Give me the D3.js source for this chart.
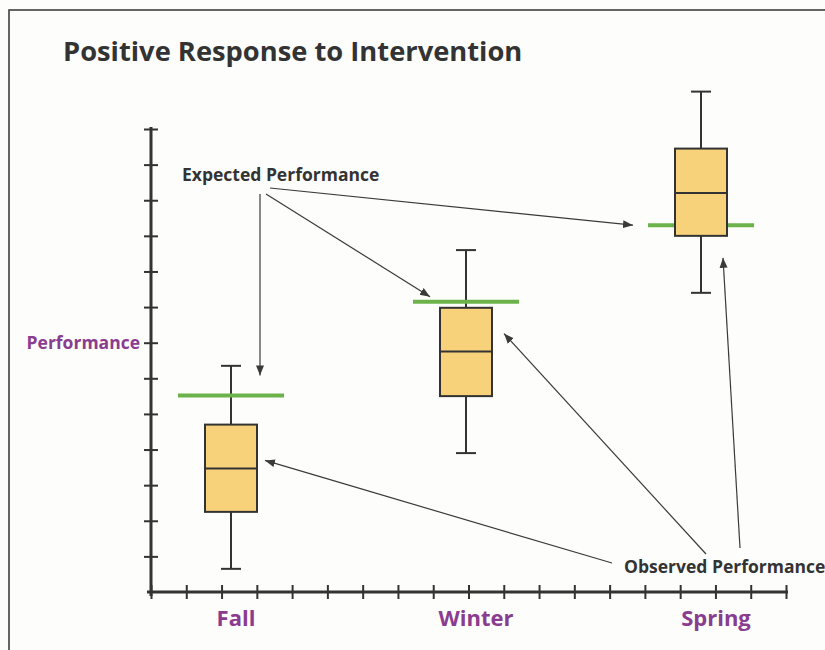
<!DOCTYPE html>
<meta charset="utf-8">
<script src="https://d3js.org/d3.v7.min.js"></script>
<style>
  body { margin: 0; background: #fdfdfc; }
  text { font-family: "Open Sans", sans-serif; font-weight: bold; }
</style>
<div id="chart"></div>
<script>

// data (performance in axis units, one unit per y tick)
var seasons = ["Fall", "Winter", "Spring"];
var whiskerLow = [0.65, 3.9, 8.4];
var q1 = [2.25, 5.5, 10.0];
var medians = [3.47, 6.75, 11.2];
var q3 = [4.7, 7.98, 12.45];
var whiskerHigh = [6.35, 9.6, 14.05];
var expected = [5.52, 8.15, 10.3];
var yTicks = d3.range(1, 14);
var xTicks = d3.range(0, 19);

var colors = {
  ink: "#333333",
  purple: "#8a3c8f",
  box: "#f8d27a",
  green: "#6cb24b",
  arrow: "#3a3a3a"
};

var width = 825, height = 650;

var svg = d3.select("#chart").append("svg")
  .attr("width", width)
  .attr("height", height);

// frame
svg.append("rect")
  .attr("x", 9).attr("y", 10)
  .attr("width", 830).attr("height", 660)
  .attr("fill", "#fdfdfc")
  .attr("stroke", colors.ink)
  .attr("stroke-width", 1.5);

// scales
var y = d3.scaleLinear().domain([0, 13]).range([592, 129]);
var xAxisScale = d3.scaleLinear().domain([0, 18]).range([151, 786]);
var x = d3.scalePoint().domain(seasons).range([231, 701]);
var xLabel = d3.scalePoint().domain(seasons).range([236, 716]);

var boxW = 52, capW = 20, expW = 106;

// title
svg.append("text")
  .attr("x", 63).attr("y", 61)
  .attr("font-size", 27.3)
  .attr("fill", colors.ink)
  .text("Positive Response to Intervention");

// y axis: ticks crossing the line
var yAxisG = svg.append("g").attr("transform", "translate(151,0)");
yAxisG.append("g")
  .call(d3.axisLeft(y).tickValues(yTicks).tickSize(7).tickSizeOuter(0).tickFormat(""));
yAxisG.append("g")
  .call(d3.axisRight(y).tickValues(yTicks).tickSize(7).tickSizeOuter(0).tickFormat(""));
yAxisG.selectAll(".domain").remove();
yAxisG.selectAll(".tick line").attr("stroke", colors.ink).attr("stroke-width", 2);
yAxisG.append("line")
  .attr("x1", 0).attr("x2", 0)
  .attr("y1", y(13) - 2).attr("y2", y(0) + 4)
  .attr("stroke", colors.ink).attr("stroke-width", 3);

// x axis
var xAxisG = svg.append("g").attr("transform", "translate(0,592)");
xAxisG.append("g")
  .call(d3.axisBottom(xAxisScale).tickValues(xTicks).tickSize(7).tickSizeOuter(0).tickFormat(""));
xAxisG.append("g")
  .call(d3.axisTop(xAxisScale).tickValues(xTicks).tickSize(7).tickSizeOuter(0).tickFormat(""));
xAxisG.selectAll(".domain").remove();
xAxisG.selectAll(".tick line").attr("stroke", colors.ink).attr("stroke-width", 2);
xAxisG.append("line")
  .attr("x1", xAxisScale(0) - 4).attr("x2", xAxisScale(18) + 2)
  .attr("y1", 0).attr("y2", 0)
  .attr("stroke", colors.ink).attr("stroke-width", 3);

// axis labels
svg.append("text")
  .attr("x", 140).attr("y", y(7))
  .attr("dy", "0.35em")
  .attr("text-anchor", "end")
  .attr("font-size", 17.5)
  .attr("fill", colors.purple)
  .text("Performance");

svg.selectAll(".season-label")
  .data(seasons)
  .enter().append("text")
  .attr("class", "season-label")
  .attr("x", function(d) { return xLabel(d); })
  .attr("y", 626)
  .attr("text-anchor", "middle")
  .attr("font-size", 22)
  .attr("fill", colors.purple)
  .text(function(d) { return d; });

// box plots
var rows = seasons.map(function(s, i) {
  return { season: s, lo: whiskerLow[i], q1: q1[i], med: medians[i], q3: q3[i], hi: whiskerHigh[i], exp: expected[i] };
});

var boxes = svg.selectAll(".box")
  .data(rows)
  .enter().append("g")
  .attr("class", "box");

boxes.append("line")
  .attr("x1", function(d) { return x(d.season); })
  .attr("x2", function(d) { return x(d.season); })
  .attr("y1", function(d) { return y(d.lo); })
  .attr("y2", function(d) { return y(d.hi); })
  .attr("stroke", colors.ink).attr("stroke-width", 2);

boxes.selectAll(".cap")
  .data(function(d) { return [{ s: d.season, v: d.lo }, { s: d.season, v: d.hi }]; })
  .enter().append("line")
  .attr("class", "cap")
  .attr("x1", function(d) { return x(d.s) - capW / 2; })
  .attr("x2", function(d) { return x(d.s) + capW / 2; })
  .attr("y1", function(d) { return y(d.v); })
  .attr("y2", function(d) { return y(d.v); })
  .attr("stroke", colors.ink).attr("stroke-width", 2);

// expected performance lines (drawn under the box)
boxes.append("line")
  .attr("x1", function(d) { return x(d.season) - expW / 2; })
  .attr("x2", function(d) { return x(d.season) + expW / 2; })
  .attr("y1", function(d) { return y(d.exp); })
  .attr("y2", function(d) { return y(d.exp); })
  .attr("stroke", colors.green).attr("stroke-width", 4);

boxes.append("rect")
  .attr("x", function(d) { return x(d.season) - boxW / 2; })
  .attr("y", function(d) { return y(d.q3); })
  .attr("width", boxW)
  .attr("height", function(d) { return y(d.q1) - y(d.q3); })
  .attr("fill", colors.box)
  .attr("stroke", colors.ink).attr("stroke-width", 2);

boxes.append("line")
  .attr("x1", function(d) { return x(d.season) - boxW / 2; })
  .attr("x2", function(d) { return x(d.season) + boxW / 2; })
  .attr("y1", function(d) { return y(d.med); })
  .attr("y2", function(d) { return y(d.med); })
  .attr("stroke", colors.ink).attr("stroke-width", 2);

// arrowhead
svg.append("defs").append("marker")
  .attr("id", "arrow")
  .attr("viewBox", "0 0 10 10")
  .attr("refX", 10).attr("refY", 5)
  .attr("markerWidth", 10).attr("markerHeight", 10)
  .attr("markerUnits", "userSpaceOnUse")
  .attr("orient", "auto")
  .append("path")
  .attr("d", "M0,1 L10,5 L0,9 Z")
  .attr("fill", colors.arrow);

// annotations
svg.append("text")
  .attr("x", 182).attr("y", 181)
  .attr("font-size", 17.5)
  .attr("fill", colors.ink)
  .text("Expected Performance");

svg.append("text")
  .attr("x", 624).attr("y", 573)
  .attr("font-size", 17.5)
  .attr("fill", colors.ink)
  .text("Observed Performance");

var expArrows = [
  { from: [260, 194], to: [x("Fall") + 29, y(expected[0]) - 20] },
  { from: [266, 194], to: [x("Winter") - 36, y(expected[1]) - 5] },
  { from: [270, 188], to: [x("Spring") - 68, y(expected[2])] }
];
var obsArrows = [
  { from: [612, 563], to: [x("Fall") + 34, y(medians[0]) - 8] },
  { from: [706, 554], to: [x("Winter") + 38, y(medians[1]) - 18] },
  { from: [740, 548], to: [x("Spring") + 22, y(q1[2]) + 22] }
];

svg.selectAll(".arrow")
  .data(expArrows.concat(obsArrows))
  .enter().append("line")
  .attr("class", "arrow")
  .attr("x1", function(d) { return d.from[0]; })
  .attr("y1", function(d) { return d.from[1]; })
  .attr("x2", function(d) { return d.to[0]; })
  .attr("y2", function(d) { return d.to[1]; })
  .attr("stroke", colors.arrow)
  .attr("stroke-width", 1.2)
  .attr("marker-end", "url(#arrow)");

</script>
